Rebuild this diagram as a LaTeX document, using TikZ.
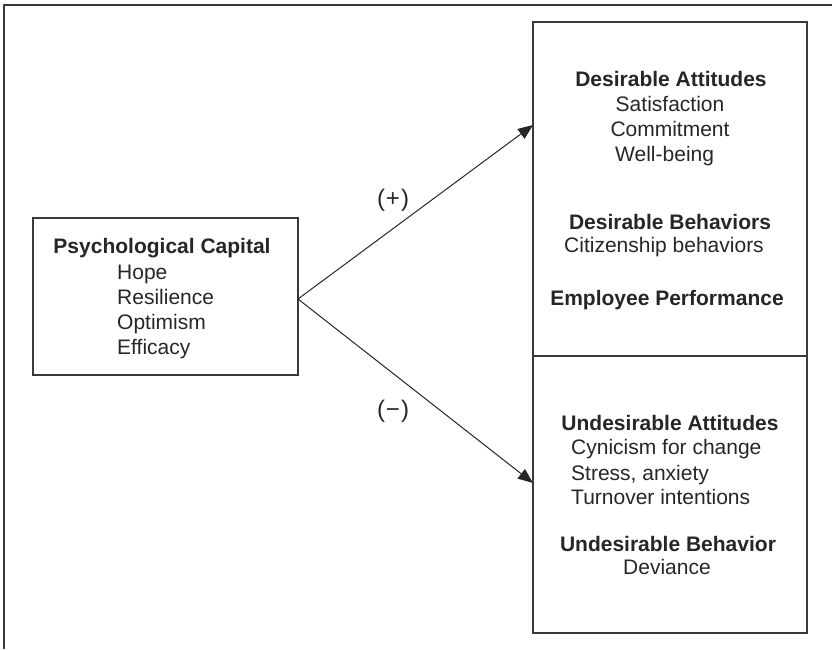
\documentclass[tikz,border=0pt]{standalone}
\usepackage{fontspec}
\setmainfont{Liberation Sans}
\usetikzlibrary{arrows.meta}
\definecolor{ink}{HTML}{262626}
\definecolor{frame}{HTML}{3A3A3A}
\tikzset{
  boxnode/.style={draw=frame, line width=1.3pt, minimum width=#1, inner sep=0pt},
  lbl/.style={anchor=base, inner sep=0pt, text=ink, font=\fontsize{21}{25}\selectfont},
  lblL/.style={lbl, anchor=base west},
  head/.style={lbl, font=\fontsize{21}{25}\selectfont\bfseries},
  sign/.style={lbl, font=\fontsize{24}{28}\selectfont},
  conn/.style={draw=ink, line width=1pt, -{Triangle[length=15pt,width=12pt]}},
  outer/.style={draw=frame, line width=2pt}
}
\begin{document}
\begin{tikzpicture}[x=1pt,y=-1pt]
\useasboundingbox (0,0) rectangle (832,649);
% outer frame (top and left edges)
\coordinate (fTR) at (832,5);
\coordinate (fTL) at (4,5);
\coordinate (fBL) at (4,649);
\draw[outer] (fTR) -- (fTL) -- (fBL);
% boxes
\node[boxnode=265pt, minimum height=157pt] (pc) at (165.5,296.5) {};
\node[boxnode=274pt, minimum height=334pt] (up) at (670,189) {};
\node[boxnode=274pt, minimum height=277pt] (dn) at (670,494.5) {};
% left box text
\node[head] (pcT) at (162,253) {Psychological Capital};
\node[lblL] (h1) at (117,279) {Hope};
\node[lblL] (h2) at (117,304) {Resilience};
\node[lblL] (h3) at (117,329) {Optimism};
\node[lblL] (h4) at (117,354) {Efficacy};
% upper right text
\node[head] (da) at (671,86) {Desirable Attitudes};
\node[lbl] (s1) at (670,111) {Satisfaction};
\node[lbl] (s2) at (670,136) {Commitment};
\node[lblL] (s3) at (615,161) {Well-being};
\node[head] (db) at (670,229) {Desirable Behaviors};
\node[lbl] (cb) at (664,252) {Citizenship behaviors};
\node[head] (ep) at (667,305) {Employee Performance};
% lower right text
\node[head] (ua) at (670,430) {Undesirable Attitudes};
\node[lblL] (u1) at (571,454) {Cynicism for change};
\node[lblL] (u2) at (571,480) {Stress, anxiety};
\node[lblL] (u3) at (571,504) {Turnover intentions};
\node[head] (ub) at (668,551) {Undesirable Behavior};
\node[lbl] (dv) at (667,574) {Deviance};
% connectors
\coordinate (src) at (298,299);
\coordinate (tipU) at (533,125);
\coordinate (tipD) at (533,483);
\draw[conn] (src) -- (tipU);
\draw[conn] (src) -- (tipD);
\node[sign] (plus) at (393,206) {(\kern1pt+\kern1pt)};
\node[sign] (minus) at (393,417) {(\kern1pt−\kern1pt)};
\end{tikzpicture}
\end{document}
